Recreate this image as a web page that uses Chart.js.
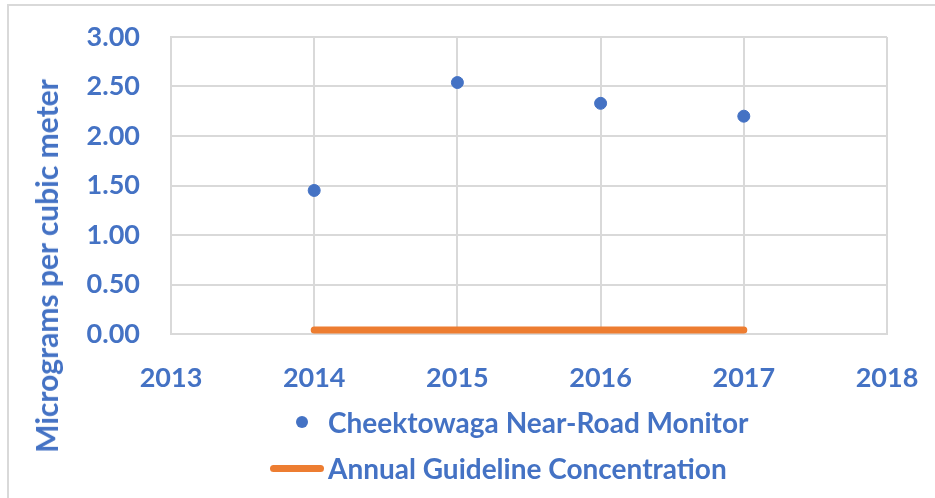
<!DOCTYPE html>
<html lang="en">

<head>
    <meta charset="UTF-8">
    <title>Cheektowaga Near-Road Monitor</title>
    <script src="https://cdn.jsdelivr.net/npm/chart.js"></script>
</head>

<style>
    body {
        margin: 0;
        padding: 0;
        width: 935px;
        height: 498px;
        overflow: hidden;
        background-color: #FFF;
        font-family: Lato, 'Open Sans', sans-serif;
        font-weight: bold;
        color: #4472C4;
    }

    .moldura {
        position: absolute;
        left: 7px;
        top: 4px;
        width: 960px;
        height: 520px;
        border-left: 2px solid #D9D9D9;
        border-top: 2px solid #D9D9D9;
    }

    .caixa_grafico {
        position: absolute;
        left: 0;
        top: 0;
        width: 935px;
        height: 498px;
    }

    .titulo_y {
        position: absolute;
        left: 46px;
        top: 266px;
        transform: translate(-50%, -50%) rotate(-90deg);
        white-space: nowrap;
        font-size: 30px;
    }

    .legenda {
        position: absolute;
        left: 266px;
        top: 399px;
        font-size: 28px;
    }

    .item_legenda {
        display: flex;
        align-items: center;
        height: 46px;
    }

    .marcador {
        width: 62px;
        display: flex;
        justify-content: center;
        align-items: center;
    }
</style>

<body>
    <div class="moldura"></div>
    <div class="caixa_grafico">
        <canvas id="graficoMonitor"></canvas>
    </div>
    <div class="titulo_y">Micrograms per cubic meter</div>
    <div class="legenda" id="legenda"></div>
</body>

</html>

<script>
    // dados
    const anos = [2014, 2015, 2016, 2017];
    const valoresMonitor = [1.45, 2.54, 2.33, 2.20];
    const valoresGuideline = [0.04, 0.04, 0.04, 0.04];
    const limitesX = [2013, 2018];
    const limitesY = [0, 3];
    const passoY = 0.5;

    const azul = '#4472C4';
    const laranja = '#ED7D31';
    const cinza = '#D9D9D9';

    Chart.defaults.font.family = "Lato, 'Open Sans', sans-serif";
    Chart.defaults.font.weight = 'bold';
    Chart.defaults.font.size = 27;
    Chart.defaults.color = azul;

    plotarGrafico();

    function plotarGrafico() {
        let chartData = {
            datasets: [{
                label: 'Cheektowaga Near-Road Monitor',
                data: anos.map((ano, i) => ({ x: ano, y: valoresMonitor[i] })),
                backgroundColor: azul,
                borderColor: azul,
                pointRadius: 6,
                pointHoverRadius: 6,
                showLine: false,
                order: 1
            },
            {
                label: 'Annual Guideline Concentration',
                type: 'line',
                data: anos.map((ano, i) => ({ x: ano, y: valoresGuideline[i] })),
                borderColor: laranja,
                backgroundColor: laranja,
                borderWidth: 7,
                borderCapStyle: 'round',
                pointRadius: 0,
                fill: false,
                order: 2
            }
            ]
        };

        const config = {
            type: 'scatter',
            data: chartData,
            options: {
                responsive: true,
                maintainAspectRatio: false,
                animation: false,
                layout: {
                    padding: { left: 0, top: 37, right: 48, bottom: 0 }
                },
                scales: {
                    x: {
                        type: 'linear',
                        min: limitesX[0],
                        max: limitesX[1],
                        afterFit: function (scale) {
                            scale.height = 164;
                            scale.paddingLeft = 0;
                            scale.paddingRight = 0;
                        },
                        grid: { color: cinza, lineWidth: 2, drawTicks: false },
                        border: { color: cinza, width: 2 },
                        ticks: {
                            stepSize: 1,
                            padding: 28,
                            callback: (v) => String(v)
                        }
                    },
                    y: {
                        min: limitesY[0],
                        max: limitesY[1],
                        afterFit: function (scale) {
                            scale.width = 171;
                            scale.paddingTop = 0;
                            scale.paddingBottom = 0;
                        },
                        grid: { color: cinza, lineWidth: 2, drawTicks: false },
                        border: { color: cinza, width: 2 },
                        ticks: {
                            stepSize: passoY,
                            padding: 31,
                            callback: (v) => v.toFixed(2)
                        }
                    }
                },
                plugins: {
                    legend: { display: false },
                    tooltip: { enabled: false }
                }
            }
        };

        let myChart = new Chart(
            document.getElementById('graficoMonitor'),
            config
        );

        montarLegenda(myChart);
    }

    function montarLegenda(chart) {
        let html = '';
        chart.data.datasets.forEach(function (ds) {
            let marcador = ds.showLine === false
                ? `<span style="width:12px;height:12px;border-radius:50%;background:${ds.backgroundColor};margin-left:10px"></span>`
                : `<span style="width:54px;height:7px;border-radius:4px;background:${ds.borderColor}"></span>`;
            html += `<div class="item_legenda"><div class="marcador">${marcador}</div><span>${ds.label}</span></div>`;
        });
        legenda.innerHTML = html;
    }
</script>
